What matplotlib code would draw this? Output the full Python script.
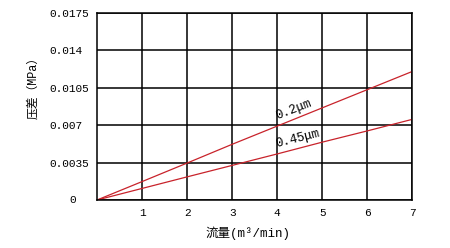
import numpy as np
import matplotlib
matplotlib.use('Agg')
import matplotlib.pyplot as plt
import matplotlib.transforms as mtransforms

plt.rcParams['font.family'] = ['Liberation Mono', 'Noto Sans CJK SC', 'DejaVu Sans']

# data
flow = [0, 1, 2, 3, 4, 5, 6, 7]
dp_02 = [0, 0.00172, 0.00345, 0.0052, 0.0069, 0.0086, 0.0103, 0.0120]
dp_045 = [0, 0.00108, 0.00216, 0.00323, 0.0043, 0.0054, 0.00645, 0.00753]
xticks = [1, 2, 3, 4, 5, 6, 7]
yticks = [0, 0.0035, 0.007, 0.0105, 0.014, 0.0175]
ytick_labels = ['', '0.0035', '0.007', '0.0105', '0.014', '0.0175']

red = '#c8232b'

fig = plt.figure(figsize=(4.5, 2.48), dpi=100)
ax = fig.add_axes([0.2156, 0.1935, 0.7006, 0.756])

ax.plot(flow, dp_02, color=red, lw=0.9)
ax.plot(flow, dp_045, color=red, lw=0.9)

ax.set_xlim(0, 7)
ax.set_ylim(0, 0.0175)
ax.set_xticks(xticks)
ax.set_yticks(yticks)
ax.set_yticklabels(ytick_labels)
ax.grid(True, color='black', lw=1.1)
for s in ax.spines.values():
    s.set_color('black')
    s.set_linewidth(1.1)
ax.tick_params(length=0, labelsize=8)
ax.tick_params(axis='x', pad=6)
ax.tick_params(axis='y', pad=34.5)
for lab in ax.get_yticklabels():
    lab.set_ha('left')

# lone "0" on the y axis sits further right than the others
trans = mtransforms.blended_transform_factory(fig.transFigure, ax.transData)
ax.text(73 / 450, 0, '0', transform=trans, ha='center', va='center', fontsize=8)

ax.text(4.02, 0.0073, '0.2μm', rotation=21, fontsize=9, ha='left', va='bottom',
        rotation_mode='anchor')
ax.text(4.0, 0.0047, '0.45μm', rotation=14, fontsize=9, ha='left', va='bottom',
        rotation_mode='anchor')

ax.set_xlabel('流量(m³/min)', fontsize=9)
ax.xaxis.set_label_coords(0.48, -0.139)
ax.set_ylabel('压差（MPa）', fontsize=8.5)
ax.yaxis.set_label_coords(-0.184, 0.613)

fig.savefig('out.png', dpi=100)
